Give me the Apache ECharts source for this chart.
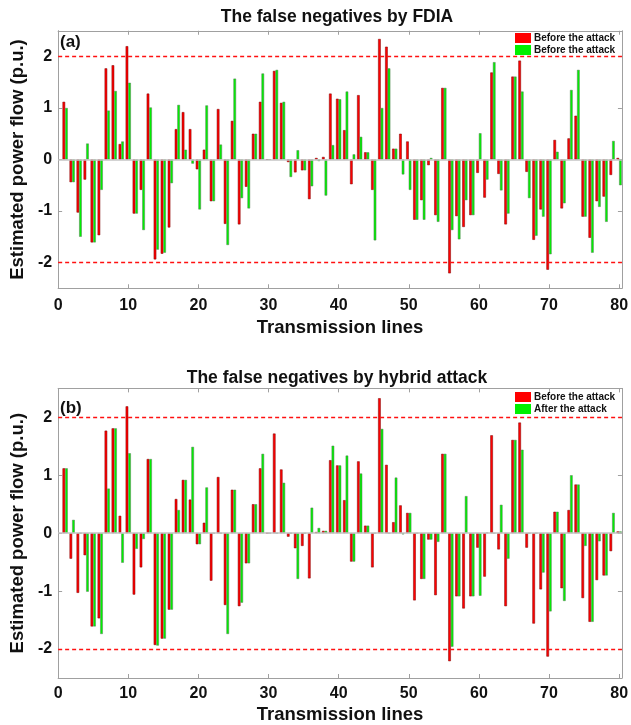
<!DOCTYPE html>
<html>
<head>
<meta charset="utf-8">
<script src="https://cdn.jsdelivr.net/npm/echarts@6/dist/echarts.min.js"></script>
<style>
html, body { margin: 0; padding: 0; background: #fff; }
#chart { width: 631px; height: 725px; }
</style>
</head>
<body>
<div id="chart"></div>
<script>
// panel (a): FDIA
var fdiaBefore = [1.12, -0.44, -1.03, -0.39, -1.61, -1.47, 1.77, 1.83, 0.30, 2.20,
  -1.05, -0.59, 1.28, -1.94, -1.83, -1.32, 0.59, 0.92, 0.59, -0.19,
  0.19, -0.81, 0.98, -1.25, 0.75, -1.26, -0.53, 0.50, 1.12, 0,
  1.72, 1.10, -0.05, -0.25, -0.21, -0.77, 0.03, 0.05, 1.28, 1.18,
  0.57, -0.48, 1.25, 0.14, -0.59, 2.34, 2.19, 0.21, 0.50, 0.35,
  -1.17, -0.79, -0.11, -1.08, 1.39, -2.21, -1.10, -1.31, -1.08, -0.26,
  -0.74, 1.69, -0.28, -1.26, 1.61, 1.92, -0.24, -1.56, -0.97, -2.14,
  0.38, -0.95, 0.41, 0.85, -1.11, -1.52, -0.81, -0.72, -0.30, 0.03]
var fdiaAfter = [1.00, -0.44, -1.50, 0.31, -1.61, -0.59, 0.95, 1.33, 0.35, 1.49,
  -1.05, -1.37, 1.01, -1.75, -1.81, -0.46, 1.06, 0.19, -0.08, -0.97,
  1.05, -0.81, 0.29, -1.66, 1.57, -0.75, -0.95, 0.50, 1.67, 0,
  1.74, 1.12, -0.34, 0.18, -0.21, -0.52, -0.03, -0.70, 0.28, 1.17,
  1.32, 0.10, 0.44, 0.14, -1.57, 1.00, 1.77, 0.21, -0.29, -0.59,
  -1.17, -1.17, 0.03, -1.21, 1.39, -1.37, -1.55, -0.79, -1.08, 0.51,
  -0.39, 1.89, -0.60, -1.05, 1.61, 1.32, -0.75, -1.48, -1.11, -1.84,
  0.15, -0.85, 1.35, 1.74, -1.11, -1.81, -0.92, -1.21, 0.36, -0.50]

// panel (b): hybrid attack
var hybridBefore = [1.12, -0.44, -1.03, -0.38, -1.61, -1.47, 1.77, 1.81, 0.30, 2.19,
  -1.06, -0.59, 1.28, -1.93, -1.82, -1.32, 0.59, 0.92, 0.58, -0.19,
  0.18, -0.82, 0.97, -1.24, 0.75, -1.26, -0.52, 0.50, 1.12, 0,
  1.72, 1.10, -0.06, -0.26, -0.22, -0.78, 0.02, 0.04, 1.26, 1.17,
  0.57, -0.49, 1.24, 0.13, -0.59, 2.33, 1.18, 0.19, 0.48, 0.35,
  -1.16, -0.79, -0.11, -1.07, 1.37, -2.21, -1.09, -1.30, -1.09, -0.25,
  -0.75, 1.69, -0.28, -1.26, 1.61, 1.91, -0.25, -1.56, -0.97, -2.13,
  0.37, -0.95, 0.40, 0.84, -1.12, -1.53, -0.81, -0.73, -0.31, 0.03]
var hybridAfter = [1.12, 0.23, 0, -1.01, -1.61, -1.74, 0.77, 1.81, -0.51, 1.38,
  -0.27, -0.10, 1.28, -1.94, -1.82, -1.32, 0.40, 0.92, 1.49, -0.19,
  0.79, 0, 0, -1.74, 0.75, -1.20, -0.52, 0.50, 1.37, 0,
  0, 0.87, 0, -0.79, 0, 0.44, 0.09, 0.04, 1.51, 1.17,
  1.34, -0.49, 1.03, 0.13, 0, 1.80, 0, 0.96, -0.02, 0.35,
  0, -0.79, -0.11, -0.15, 1.37, -1.96, -1.09, 0.64, -1.09, -1.08,
  0.01, 0, 0.49, -0.44, 1.61, 1.44, 0, 0, -0.68, -1.35,
  0.37, -1.17, 1.00, 0.84, -0.22, -1.53, -0.14, -0.73, 0.35, 0.03]

var lineNo = fdiaBefore.map(function (v, i) { return i + 1 })
var xTicks = [0, 10, 20, 30, 40, 50, 60, 70, 80]
var yTicks = [-2, -1, 0, 1, 2]
var legendText = {
  aBefore: 'Before the attack',
  aAfter: 'Before the attack',
  bBefore: 'Before the attack',
  bAfter: 'After the attack'
}

var font = '"Liberation Sans", Arial, sans-serif'
var axisGray = '#a0a0a0'

function pairs(vals) {
  return vals.map(function (v, i) { return [lineNo[i], v] })
}

function bottomAxis(k, gap, margin) {
  return {
    type: 'value', gridIndex: k, min: 0, max: 80.4,
    axisLine: { onZero: false, lineStyle: { color: axisGray } },
    axisTick: { inside: true, length: 4, customValues: xTicks, lineStyle: { color: axisGray } },
    axisLabel: {
      customValues: xTicks, margin: margin, color: '#111',
      fontFamily: font, fontWeight: 'bold', fontSize: 16,
      formatter: function (v) { return v % 10 === 0 ? v : '' }
    },
    splitLine: { show: false },
    name: 'Transmission lines', nameLocation: 'middle', nameGap: gap,
    nameTextStyle: { fontFamily: font, fontWeight: 'bold', fontSize: 18.5, color: '#111' }
  }
}

function topAxis(k) {
  return {
    type: 'value', gridIndex: k, position: 'top', min: 0, max: 80.4,
    axisLine: { onZero: false, lineStyle: { color: axisGray } },
    axisTick: { inside: true, length: 4, customValues: xTicks, lineStyle: { color: axisGray } },
    axisLabel: { show: false },
    splitLine: { show: false }
  }
}

function leftAxis(k) {
  return {
    type: 'value', gridIndex: k, min: -2.5, max: 2.5, interval: 0.5,
    axisLine: { show: true, onZero: false, lineStyle: { color: axisGray } },
    axisTick: { show: true, inside: true, length: 4, customValues: yTicks, lineStyle: { color: axisGray } },
    axisLabel: {
      customValues: yTicks, margin: 6, color: '#111',
      fontFamily: font, fontWeight: 'bold', fontSize: 16,
      formatter: function (v) { return v % 1 === 0 ? v : '' }
    },
    splitLine: { show: false },
    name: 'Estimated power flow (p.u.)', nameLocation: 'middle', nameGap: 20,
    nameTextStyle: { fontFamily: font, fontWeight: 'bold', fontSize: 18.5, color: '#111' }
  }
}

function rightAxis(k) {
  return {
    type: 'value', gridIndex: k, position: 'right', min: -2.5, max: 2.5, interval: 0.5,
    axisLine: { show: true, onZero: false, lineStyle: { color: axisGray } },
    axisTick: { show: true, inside: true, length: 4, customValues: yTicks, lineStyle: { color: axisGray } },
    axisLabel: { show: false },
    splitLine: { show: false }
  }
}

function redBars(name, k, vals) {
  return {
    name: name, type: 'bar', xAxisIndex: k, yAxisIndex: k,
    data: pairs(vals), barWidth: 2.6, barGap: '0%',
    itemStyle: { color: '#ff0000', borderColor: '#7a0000', borderWidth: 0.5 },
    markLine: {
      silent: true, symbol: 'none', label: { show: false }, z: 5,
      lineStyle: { color: '#ff1010', type: [4, 3], width: 1.4, opacity: 1 },
      data: [{ yAxis: 2 }, { yAxis: -2 }]
    }
  }
}

function greenBars(name, k, vals) {
  return {
    name: name, type: 'bar', xAxisIndex: k, yAxisIndex: k,
    data: pairs(vals), barWidth: 2.6, barGap: '0%',
    itemStyle: { color: '#00f000', borderColor: '#5a7a5a', borderWidth: 0.5 },
    markLine: {
      silent: true, symbol: 'none', label: { show: false },
      lineStyle: { color: '#c4c4c4', type: 'solid', width: 1.5 },
      data: [{ yAxis: 0 }]
    }
  }
}

function legendAt(top, names) {
  return {
    data: names, orient: 'vertical', left: 515, top: top,
    itemWidth: 16, itemHeight: 10, itemGap: 2, padding: 0,
    icon: 'rect', selectedMode: false,
    itemStyle: { borderWidth: 0 },
    textStyle: { fontFamily: font, fontWeight: 'bold', fontSize: 10, color: '#111', padding: [0, 0, 0, -2] },
    formatter: function (n) { return legendText[n] }
  }
}

function label(text, x, y, size, align) {
  return {
    type: 'text', x: x, y: y,
    style: {
      text: text, font: 'bold ' + size + 'px ' + font, fill: '#111',
      textAlign: align, textVerticalAlign: 'middle'
    }
  }
}

var chart = echarts.init(document.getElementById('chart'))

var option = {
  animation: false,
  backgroundColor: '#fff',
  grid: [
    { left: 52, right: 8, top: 30.75, height: 257.5 },
    { left: 52, right: 8, top: 388.375, height: 291.25 }
  ],
  xAxis: [bottomAxis(0, 30, 9), bottomAxis(1, 27, 8), topAxis(0), topAxis(1)],
  yAxis: [leftAxis(0), leftAxis(1), rightAxis(0), rightAxis(1)],
  legend: [
    legendAt(33, ['aBefore', 'aAfter']),
    legendAt(392, ['bBefore', 'bAfter'])
  ],
  graphic: [
    label('The false negatives by FDIA', 337, 17, 17.5, 'center'),
    label('The false negatives by hybrid attack', 337, 378, 17.5, 'center'),
    label('(a)', 60, 42, 17, 'left'),
    label('(b)', 60, 408, 17, 'left')
  ],
  series: [
    redBars('aBefore', 0, fdiaBefore),
    greenBars('aAfter', 0, fdiaAfter),
    redBars('bBefore', 1, hybridBefore),
    greenBars('bAfter', 1, hybridAfter)
  ]
}

chart.setOption(option)
</script>
</body>
</html>
